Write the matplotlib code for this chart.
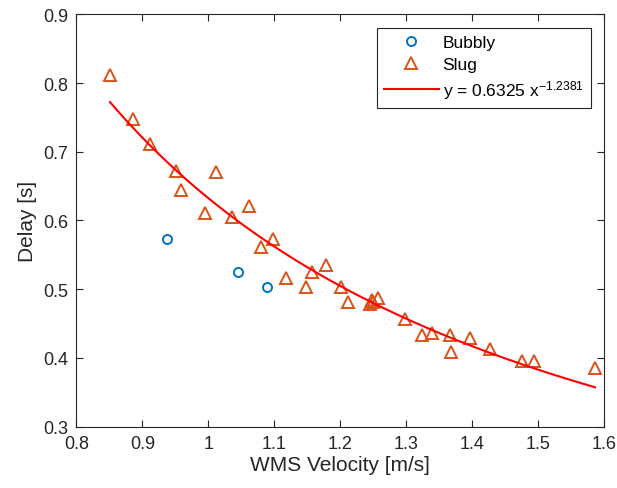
import matplotlib
matplotlib.use("Agg")
import matplotlib.pyplot as plt
import numpy as np

plt.rcParams["font.family"] = ["Liberation Sans", "DejaVu Sans"]
plt.rcParams["mathtext.default"] = "regular"

# bubbly flow points
bubbly_v = [0.937, 1.045, 1.089]
bubbly_d = [0.573, 0.525, 0.503]

# slug flow points
slug_v = [0.851, 0.886, 0.912, 0.951, 0.959, 1.012, 0.995, 1.036, 1.062, 1.080,
          1.098, 1.118, 1.148, 1.157, 1.178, 1.201, 1.212, 1.245, 1.248, 1.250,
          1.257, 1.298, 1.324, 1.339, 1.366, 1.367, 1.397, 1.427, 1.476, 1.493,
          1.586]
slug_d = [0.812, 0.748, 0.711, 0.672, 0.644, 0.670, 0.611, 0.605, 0.621, 0.561,
          0.573, 0.516, 0.503, 0.525, 0.535, 0.503, 0.481, 0.479, 0.485, 0.481,
          0.487, 0.457, 0.433, 0.437, 0.433, 0.409, 0.429, 0.413, 0.396, 0.396,
          0.386]

# power-law fit y = a x^b
fit_a = 0.6325
fit_b = -1.2381

AX_COLOR = "#262626"

fig = plt.figure(figsize=(6.17, 4.89), dpi=100)
ax = fig.add_axes([0.1237, 0.1254, 0.8557, 0.8433])

ax.plot(bubbly_v, bubbly_d, "o", linestyle="none", markersize=6.5,
        markerfacecolor="none", markeredgecolor="#0072BD", markeredgewidth=1.4,
        label="Bubbly")
ax.plot(slug_v, slug_d, "^", linestyle="none", markersize=8,
        markerfacecolor="none", markeredgecolor="#D95319", markeredgewidth=1.4,
        label="Slug")

xf = np.linspace(min(slug_v), max(slug_v), 200)
ax.plot(xf, fit_a * xf ** fit_b, color="red", linewidth=1.5,
        label="y = %.4f x$^{%.4f}$" % (fit_a, fit_b))

ax.set_xlim(0.8, 1.6)
ax.set_ylim(0.3, 0.9)
ax.set_xticks(np.arange(0.8, 1.61, 0.1))
ax.set_yticks(np.arange(0.3, 0.91, 0.1))
ax.set_xticklabels(["0.8", "0.9", "1", "1.1", "1.2", "1.3", "1.4", "1.5", "1.6"])
ax.set_yticklabels(["0.3", "0.4", "0.5", "0.6", "0.7", "0.8", "0.9"])
ax.tick_params(direction="in", top=True, right=True, length=5, width=0.8,
               colors=AX_COLOR, labelsize=13, pad=6)
for s in ax.spines.values():
    s.set_color(AX_COLOR)
    s.set_linewidth(0.8)

ax.set_xlabel("WMS Velocity [m/s]", fontsize=15, color=AX_COLOR, labelpad=2)
ax.set_ylabel("Delay [s]", fontsize=15, color=AX_COLOR, labelpad=4)

leg = ax.legend(loc="upper right", bbox_to_anchor=(0.974, 0.966),
                fontsize=12.5, handlelength=3.2, handletextpad=0.2,
                borderaxespad=0.0, fancybox=False, framealpha=1,
                edgecolor=AX_COLOR, labelspacing=0.35, borderpad=0.4)
leg.get_frame().set_linewidth(0.8)

fig.savefig("out.png", dpi=100)
